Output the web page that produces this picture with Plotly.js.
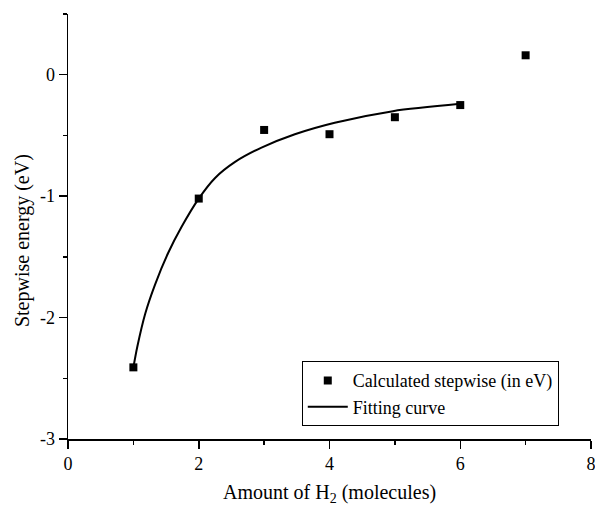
<!DOCTYPE html>
<html>
<head>
<meta charset="utf-8">
<script src="https://cdn.plot.ly/plotly-3.0.1.min.js"></script>
<style>html,body{margin:0;padding:0;background:#fff;}#chart{width:595px;height:506px;}</style>
</head>
<body>
<div id="chart"></div>
<script>
// Calculated stepwise energies (eV)
const calcX = [1, 2, 3, 4, 5, 6, 7];
const calcY = [-2.41, -1.02, -0.455, -0.49, -0.35, -0.25, 0.16];

// Fitting curve
const fitX = [1, 1.06, 1.18, 1.33, 1.53, 1.74, 2, 2.25, 2.55, 2.96, 3.47, 4.08, 4.97, 6];
const fitY = [-2.41, -2.24, -1.97, -1.73, -1.47, -1.25, -1.02, -0.85, -0.72, -0.60, -0.49, -0.395, -0.30, -0.24];

const xTicks = [0, 2, 4, 6, 8];
const yTicks = [-3, -2, -1, 0];

const xTitle = 'Amount of H<sub>2</sub> (molecules)';
const yTitle = 'Stepwise energy (eV)';

const serif = 'Liberation Serif, Times New Roman, serif';

const traces = [
  {
    x: fitX, y: fitY, mode: 'lines', name: 'Fitting curve',
    line: {color: '#000', width: 2, shape: 'spline', smoothing: 0.8}
  },
  {
    x: calcX, y: calcY, mode: 'markers', name: 'Calculated stepwise (in eV)',
    marker: {symbol: 'square', size: 8, color: '#000'}
  }
];

const layout = {
  width: 595, height: 506,
  margin: {l: 68, r: 4, t: 14, b: 67},
  paper_bgcolor: '#fff', plot_bgcolor: '#fff',
  font: {family: serif, color: '#000', size: 18},
  showlegend: true,
  legend: {
    x: 0.447, y: 0.183, xanchor: 'left', yanchor: 'top',
    bordercolor: '#000', borderwidth: 1, bgcolor: '#fff',
    traceorder: 'reversed', itemwidth: 40,
    font: {family: serif, size: 18, color: '#000'},
    tracegroupgap: 0
  },
  xaxis: {
    range: [0, 8], tickvals: xTicks, ticktext: xTicks.map(String),
    ticklabeloverflow: 'allow',
    showgrid: false, zeroline: false, showline: true, linecolor: '#000', linewidth: 1.5,
    ticks: 'outside', ticklen: 8, tickwidth: 1.5, tickcolor: '#000',
    minor: {dtick: 1, tick0: 0, ticks: 'outside', ticklen: 4, tickwidth: 1.5, tickcolor: '#000', showgrid: false},
    tickfont: {family: serif, size: 18, color: '#000'}
  },
  yaxis: {
    range: [-3, 0.5], tickvals: yTicks, ticktext: yTicks.map(String),
    ticklabeloverflow: 'allow',
    showgrid: false, zeroline: false, showline: true, linecolor: '#000', linewidth: 1.5,
    ticks: 'outside', ticklen: 8, tickwidth: 1.5, tickcolor: '#000',
    minor: {dtick: 0.5, tick0: 0, ticks: 'outside', ticklen: 4, tickwidth: 1.5, tickcolor: '#000', showgrid: false},
    tickfont: {family: serif, size: 18, color: '#000'}
  },
  annotations: [
    {text: xTitle, xref: 'paper', yref: 'paper', x: 0.5, y: -0.128, xanchor: 'center', yanchor: 'middle',
     showarrow: false, font: {family: serif, size: 20, color: '#000'}},
    {text: yTitle, xref: 'paper', yref: 'paper', x: -0.088, y: 0.468, xanchor: 'center', yanchor: 'middle',
     textangle: -90, showarrow: false, font: {family: serif, size: 20, color: '#000'}}
  ]
};

Plotly.newPlot('chart', traces, layout, {displayModeBar: false, staticPlot: true});
</script>
</body>
</html>
